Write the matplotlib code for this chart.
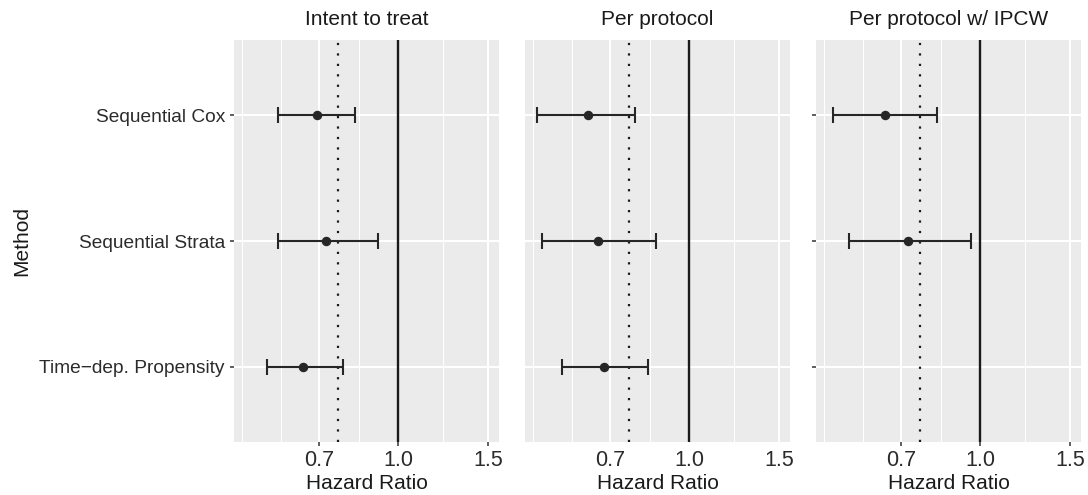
import numpy as np
import matplotlib
matplotlib.use("Agg")
import matplotlib.pyplot as plt

plt.rcParams['font.family'] = ['Liberation Sans', 'DejaVu Sans']

# Dane
methods = ["Sequential Cox", "Sequential Strata", "Time\u2212dep. Propensity"]
panels = ["Intent to treat", "Per protocol", "Per protocol w/ IPCW"]

hr_est = [
    [0.693, 0.722, 0.652],
    [0.633, 0.663, 0.682],
    [0.652, 0.722, np.nan],
]
hr_low = [
    [0.582, 0.582, 0.553],
    [0.504, 0.514, 0.564],
    [0.514, 0.553, np.nan],
]
hr_high = [
    [0.824, 0.912, 0.781],
    [0.783, 0.863, 0.832],
    [0.822, 0.960, np.nan],
]
ref_line = 0.763
x_breaks = [0.7, 1.0, 1.5]
x_labels = ["0.7", "1.0", "1.5"]
x_minor = [0.495, 0.59, 0.837, 1.225]


def draw_panel(ax, k, show_ticks, show_labels):
    ax.set_facecolor('#EBEBEB')
    for s in ax.spines.values():
        s.set_visible(False)
    ax.set_xscale('log')
    ax.set_xlim(0.477, 1.578)
    ax.set_ylim(2.6, -0.6)

    ax.set_xticks(x_breaks)
    ax.set_xticklabels(x_labels)
    ax.set_xticks(x_minor, minor=True)
    ax.set_xticklabels([], minor=True)
    ax.set_yticks(range(len(methods)))
    ax.set_yticklabels(methods if show_labels else [])

    ax.grid(which='major', color='white', linewidth=1.5)
    ax.grid(which='minor', axis='x', color='white', linewidth=0.75)
    ax.set_axisbelow(True)

    # w środkowym panelu kreski podziałki są niewidoczne
    tick_w = 1.1 if show_ticks else 0
    ax.tick_params(which='major', length=3.0, width=tick_w, color='#333333',
                   labelcolor='#2b2b2b', pad=2.5)
    ax.tick_params(which='minor', length=0)
    ax.tick_params(axis='x', labelsize=15.5)
    ax.tick_params(axis='y', labelsize=13.8, pad=3.5)

    ax.axvline(ref_line, color='#1a1a1a', linewidth=1.6, linestyle=(0, (1, 3.7)))
    ax.axvline(1.0, color='#1a1a1a', linewidth=1.7)

    est = np.array(hr_est[k])
    low = np.array(hr_low[k])
    high = np.array(hr_high[k])
    y = np.arange(len(methods))
    ok = ~np.isnan(est)
    ax.errorbar(est[ok], y[ok], xerr=[est[ok] - low[ok], high[ok] - est[ok]],
                fmt='o', ms=5.8, color='#262626', ecolor='#262626',
                elinewidth=1.5, capsize=6, capthick=1.5, zorder=3)

    ax.set_title(panels[k], fontsize=15, color='#1a1a1a', pad=10.5)
    ax.set_xlabel("Hazard Ratio", fontsize=15, color='#1a1a1a', labelpad=2.5)


fig = plt.figure(figsize=(10.88, 4.95), dpi=100)
bottom = 1 - 442 / 495
height = (442 - 40) / 495
lefts = [234, 525, 816]
width = 265 / 1088
for k in range(3):
    ax = fig.add_axes([lefts[k] / 1088, bottom, width, height])
    draw_panel(ax, k, show_ticks=(k != 1), show_labels=(k == 0))

fig.text(22 / 1088, 1 - 241 / 495, "Method", rotation=90, ha='center',
         va='center', fontsize=15, color='#1a1a1a')

plt.savefig('out.png', dpi=100)
